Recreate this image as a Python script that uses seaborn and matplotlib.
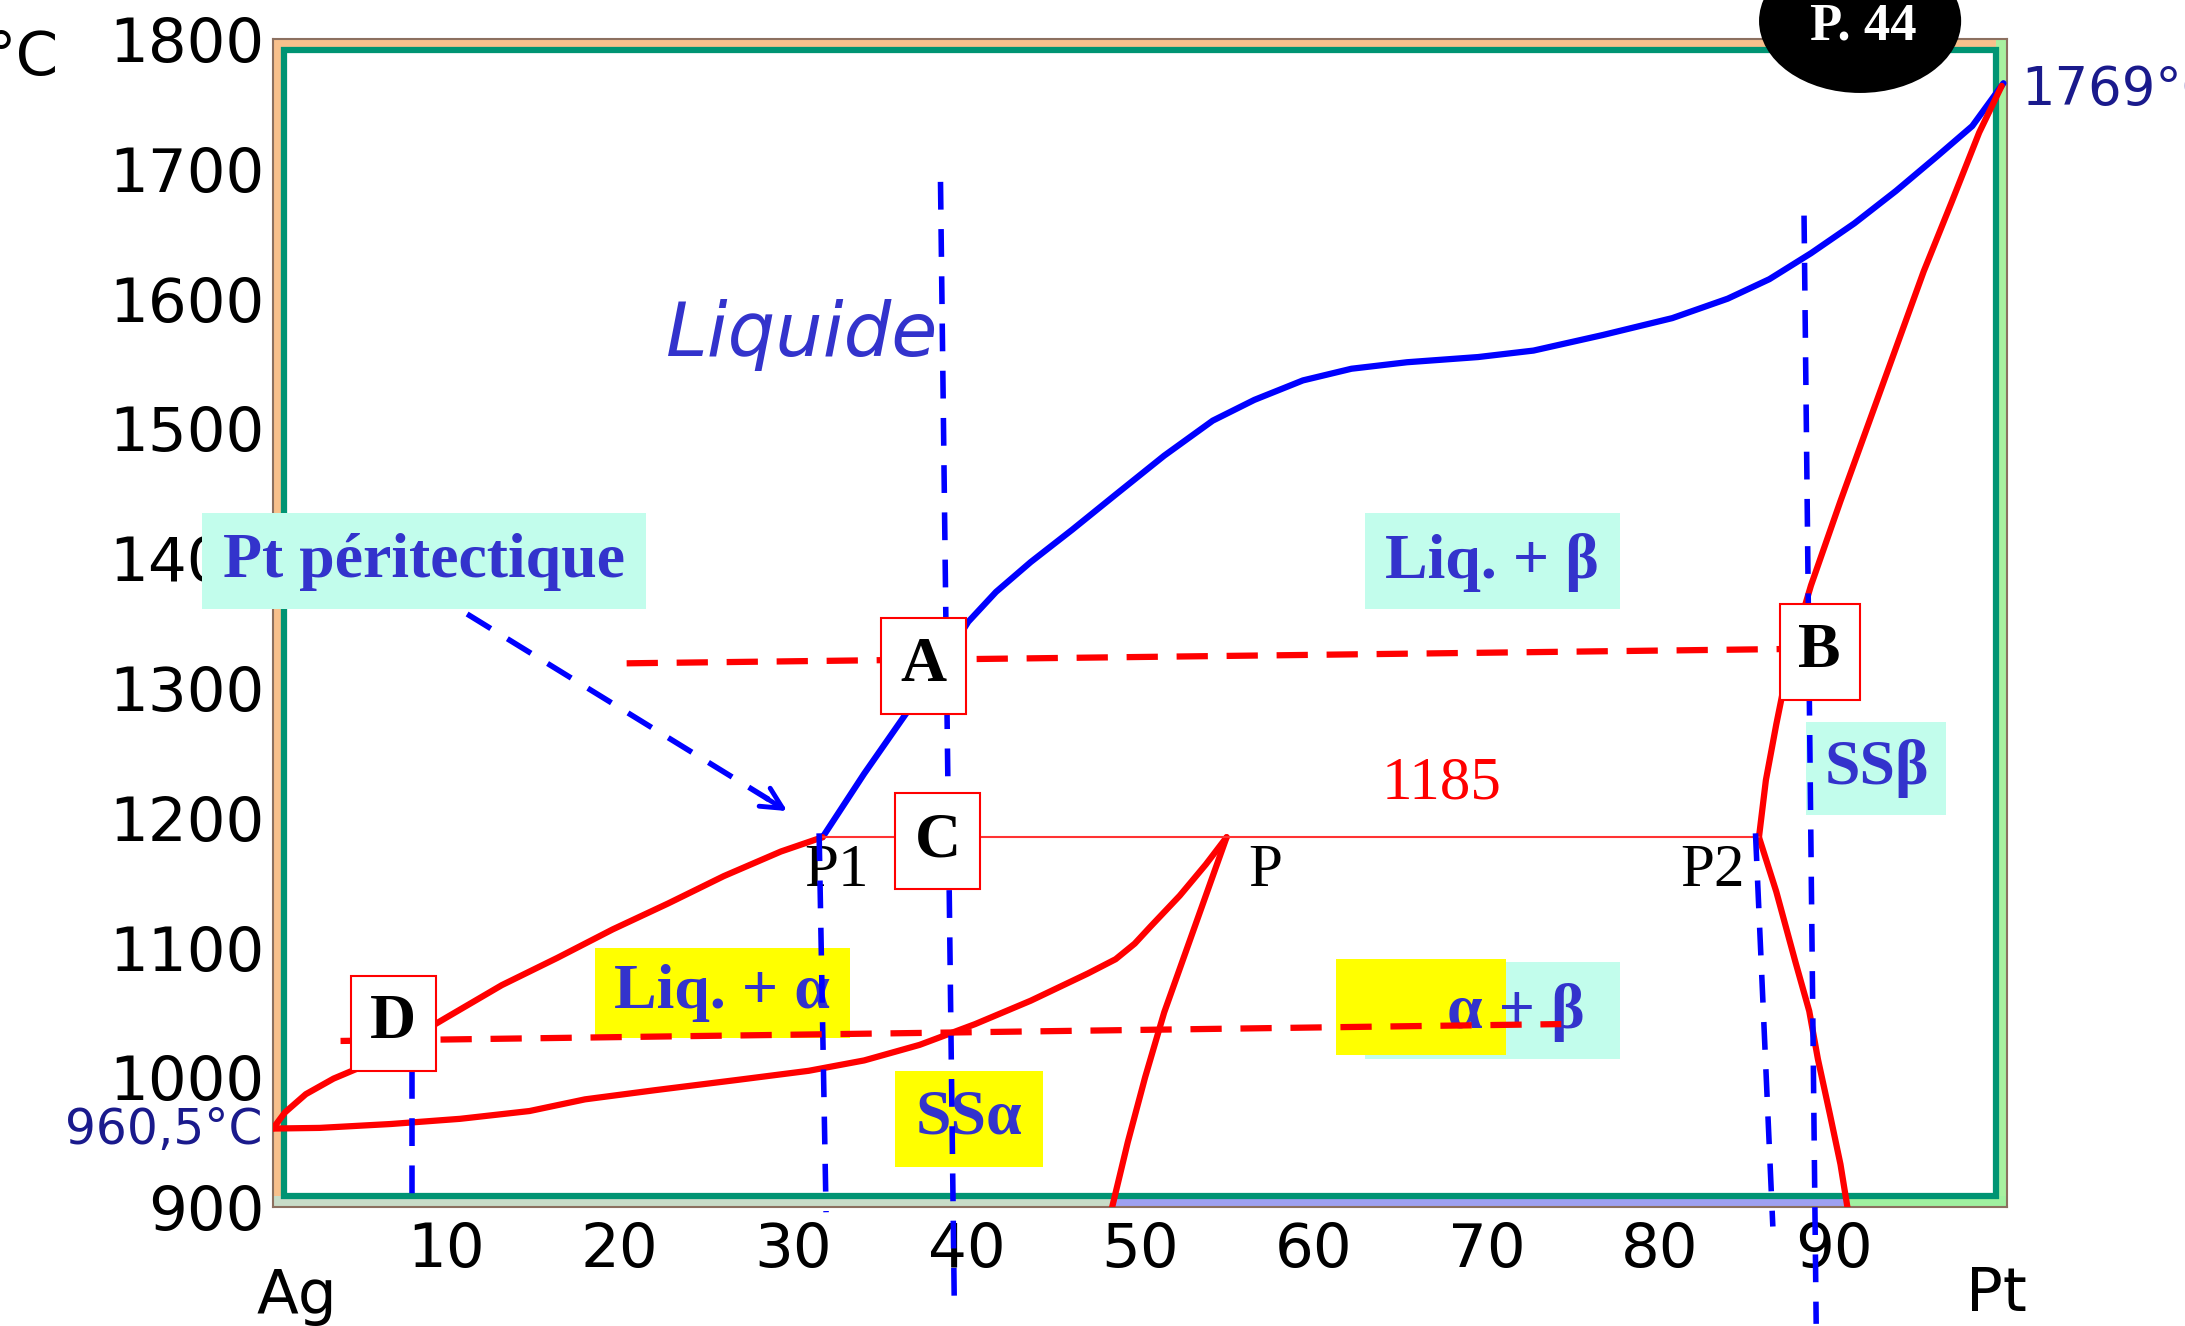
import matplotlib
matplotlib.use('Agg')
import matplotlib.pyplot as plt
from matplotlib.patches import Rectangle, Ellipse
import seaborn as sns

# courbe du liquidus (bleu) : % Pt, T en °C
liq_x = [31.7, 34.1, 36.5, 38.5, 40.1, 41.7, 43.7, 46.1, 48.6, 51.4, 54.2, 56.6, 59.4,
         62.2, 65.4, 69.5, 72.7, 76.7, 80.7, 83.9, 86.3, 88.7, 91.2, 93.6, 96.0, 98.0, 99.8]
liq_t = [1185, 1234, 1280, 1317, 1351, 1374, 1397, 1422, 1449, 1479, 1506, 1522, 1537,
         1546, 1551, 1555, 1560, 1572, 1585, 1600, 1615, 1635, 1658, 1683, 1710, 1733, 1766]

# liquidus cote Ag (rouge) jusqu'a P1
ag_liq_x = [0, 0.7, 1.9, 3.5, 5.1, 7.6, 10.0, 13.2, 16.4, 19.6, 22.8, 26.0, 29.3, 31.7]
ag_liq_t = [960.5, 973, 987, 999, 1008, 1027, 1046, 1071, 1092, 1114, 1134, 1155, 1174, 1185]

# solidus alpha (rouge) jusqu'a P
sol_a_x = [0, 2.7, 6.8, 10.8, 14.8, 18.0, 22.0, 26.8, 30.9, 34.1, 37.3, 40.5, 43.7,
           47.0, 48.6, 49.7, 50.6, 52.3, 53.8, 55.0]
sol_a_t = [960.5, 961, 964, 968, 974, 983, 990, 998, 1005, 1013, 1025, 1041, 1059,
           1080, 1091, 1103, 1116, 1140, 1164, 1185]

# solvus alpha sous P
solv_a_x = [55.0, 53.8, 52.6, 51.4, 50.3, 49.3, 48.4]
solv_a_t = [1185, 1140, 1095, 1050, 1000, 950, 900]

# solidus beta (rouge) de 1769 a P2
sol_b_x = [99.7, 98.4, 96.8, 95.2, 93.6, 92.0, 90.4, 88.7, 87.5, 86.7, 86.1, 85.7]
sol_b_t = [1764, 1728, 1674, 1621, 1562, 1503, 1444, 1379, 1325, 1272, 1229, 1185]

# solvus beta sous P2
solv_b_x = [85.7, 86.7, 87.8, 88.6, 89.1, 89.8, 90.4, 90.8]
solv_b_t = [1185, 1143, 1089, 1051, 1014, 971, 933, 900]

# palier peritectique
palier_x = [31.7, 85.7]
palier_t = [1185, 1185]

# verticales (compositions etudiees), bleu tirete
vert_lines = [([38.5, 39.3], [1690, 820]),
              ([88.3, 89.0], [1664, 810]),
              ([85.5, 86.5], [1188, 885]),
              ([31.5, 31.9], [1188, 896]),
              ([8.0, 8.0], [1005, 896])]

# horizontales (temperatures etudiees), rouge tirete
horiz_lines = [([20.4, 87.1], [1319, 1330]),
               ([3.9, 74.3], [1028, 1041])]

y_ticks = [900, 1000, 1100, 1200, 1300, 1400, 1500, 1600, 1700, 1800]
x_ticks = [10, 20, 30, 40, 50, 60, 70, 80, 90]

BLEU_TXT = '#3333cc'
AQUA = '#c2fdec'
JAUNE = '#ffff00'

sns.set_theme(style='white')
plt.rcParams['font.family'] = ['DejaVu Sans']

fig = plt.figure(figsize=(21.85, 13.26), dpi=100)
ax = fig.add_axes([0.1249, 0.0897, 0.7936, 0.8808])
ax.set_xlim(0, 100)
ax.set_ylim(900, 1800)

# cadre decoratif
fx, fy = 0.0065, 0.0095
ax.add_patch(Rectangle((0, 0), fx, 1, transform=ax.transAxes, facecolor='#f8c08c', edgecolor='none', zorder=0.6))
ax.add_patch(Rectangle((0, 1 - fy), 1, fy, transform=ax.transAxes, facecolor='#f8c08c', edgecolor='none', zorder=0.6))
ax.add_patch(Rectangle((1 - fx, 0), fx, 1, transform=ax.transAxes, facecolor='#a8f0a0', edgecolor='none', zorder=0.6))
ax.add_patch(Rectangle((0, 0), 0.484, fy, transform=ax.transAxes, facecolor='#c8dcc8', edgecolor='none', zorder=0.6))
ax.add_patch(Rectangle((0.484, 0), 0.424, fy, transform=ax.transAxes, facecolor='#9ea0f0', edgecolor='none', zorder=0.6))
ax.add_patch(Rectangle((0.908, 0), 0.092, fy, transform=ax.transAxes, facecolor='#a0f0a0', edgecolor='none', zorder=0.6))
ax.add_patch(Rectangle((fx, fy), 1 - 2 * fx, 1 - 2 * fy, transform=ax.transAxes, fill=False,
                       edgecolor='#009473', lw=4.5, zorder=0.7))
for sp in ax.spines.values():
    sp.set_color('#8c7060')
    sp.set_linewidth(1.5)

# courbes
for xs, ts, col in [(liq_x, liq_t, 'blue'), (ag_liq_x, ag_liq_t, 'red'), (sol_a_x, sol_a_t, 'red'),
                    (solv_a_x, solv_a_t, 'red'), (sol_b_x, sol_b_t, 'red'), (solv_b_x, solv_b_t, 'red')]:
    sns.lineplot(x=xs, y=ts, sort=False, estimator=None, color=col, lw=4.5, ax=ax, zorder=4)
sns.lineplot(x=palier_x, y=palier_t, sort=False, estimator=None, color='#ff3333', lw=1.5, ax=ax, zorder=4)

for xs, ts in vert_lines:
    sns.lineplot(x=xs, y=ts, sort=False, estimator=None, color='blue', lw=4,
                 linestyle=(0, (5, 3.5)), ax=ax, zorder=4.5, clip_on=False)
for xs, ts in horiz_lines:
    sns.lineplot(x=xs, y=ts, sort=False, estimator=None, color='red', lw=4.5,
                 linestyle=(0, (5, 3)), ax=ax, zorder=4.5)

# fleche "Pt peritectique"
sns.lineplot(x=[11.2, 28.6], y=[1357, 1214], sort=False, estimator=None, color='blue', lw=4,
             linestyle=(0, (5, 3.5)), ax=ax, zorder=4.5)
ax.annotate('', xy=(29.8, 1204), xytext=(28.3, 1216.3),
            arrowprops=dict(arrowstyle='->', color='blue', lw=3.5, mutation_scale=38), zorder=4.5)


def boite(x0, x1, y0, y1, couleur, z=3):
    ax.add_patch(Rectangle((x0, y0), x1 - x0, y1 - y0, facecolor=couleur, edgecolor='none',
                           zorder=z, clip_on=False))


def etiquette(x, y, s, size=46):
    ax.text(x, y, s, ha='center', va='center', fontsize=size, color=BLEU_TXT,
            family='Liberation Serif', weight='bold', zorder=3.5)


boite(-4.1, 21.5, 1361, 1435, AQUA)
etiquette(8.7, 1397, 'Pt péritectique')
boite(63.0, 77.7, 1361, 1435, AQUA)
etiquette(70.3, 1397, 'Liq. + β')
boite(18.6, 33.3, 1030, 1100, JAUNE)
etiquette(25.9, 1065, 'Liq. + α')
boite(35.9, 44.4, 931, 1005, JAUNE)
etiquette(40.15, 968, 'SSα')
boite(88.4, 96.5, 1202, 1274, AQUA)
etiquette(92.5, 1238, 'SSβ')
boite(63.0, 77.7, 1014, 1089, AQUA)
boite(61.3, 71.1, 1017, 1091, JAUNE, z=3.1)
etiquette(71.7, 1050, 'α + β')

# points A, B, C, D
for x0, x1, y0, y1, lettre in [(35.05, 39.95, 1280, 1354, 'A'), (86.9, 91.5, 1291, 1365, 'B'),
                               (35.9, 40.8, 1145, 1219, 'C'), (4.5, 9.4, 1005, 1078, 'D')]:
    ax.add_patch(Rectangle((x0, y0), x1 - x0, y1 - y0, facecolor='white', edgecolor='red',
                           lw=1.5, zorder=6))
    ax.text((x0 + x1) / 2, (y0 + y1) / 2, lettre, ha='center', va='center', fontsize=46,
            family='Liberation Serif', weight='bold', color='black', zorder=6.5)

# textes
ax.text(30.5, 1572, 'Liquide', ha='center', va='center', fontsize=54, style='italic',
        color=BLEU_TXT, zorder=3.5)
ax.text(67.4, 1226, '1185', ha='center', va='center', fontsize=44, family='Liberation Serif',
        color='red', zorder=3.5)
for x, s in [(32.5, 'P1'), (57.2, 'P'), (83.0, 'P2')]:
    ax.text(x, 1159, s, ha='center', va='center', fontsize=44, family='Liberation Serif',
            color='black', zorder=3.5)
ax.text(-0.6, 959, '960,5°C', ha='right', va='center', fontsize=35, color='#1a1a8c', clip_on=False)
ax.text(100.8, 1761, '1769°C', ha='left', va='center', fontsize=38, color='#1a1a8c', clip_on=False)
ax.text(1.4, 831, 'Ag', ha='center', va='center', fontsize=44, color='black')
ax.text(99.4, 833, 'Pt', ha='center', va='center', fontsize=44, color='black')
fig.text(0.0268, 0.956, '°C', ha='right', va='center', fontsize=44, color='black')

ax.set_xticks(x_ticks)
ax.set_yticks(y_ticks)
ax.set_xticklabels([str(v) for v in x_ticks])
ax.set_yticklabels([str(v) for v in y_ticks])
ax.tick_params(axis='both', length=0, labelsize=44, labelcolor='black')
ax.tick_params(axis='x', pad=10)
ax.tick_params(axis='y', pad=6)
ax.set_xlabel('')
ax.set_ylabel('')

# pastille "P. 44"
fig.add_artist(Ellipse((0.8513, 0.9842), 0.0925, 0.1086, transform=fig.transFigure,
                       facecolor='black', edgecolor='none', zorder=10))
fig.text(0.8527, 0.980, 'P. 44', ha='center', va='center', fontsize=38, family='Liberation Serif',
         weight='bold', color='white', zorder=11)

fig.savefig('out.png', dpi=100)
